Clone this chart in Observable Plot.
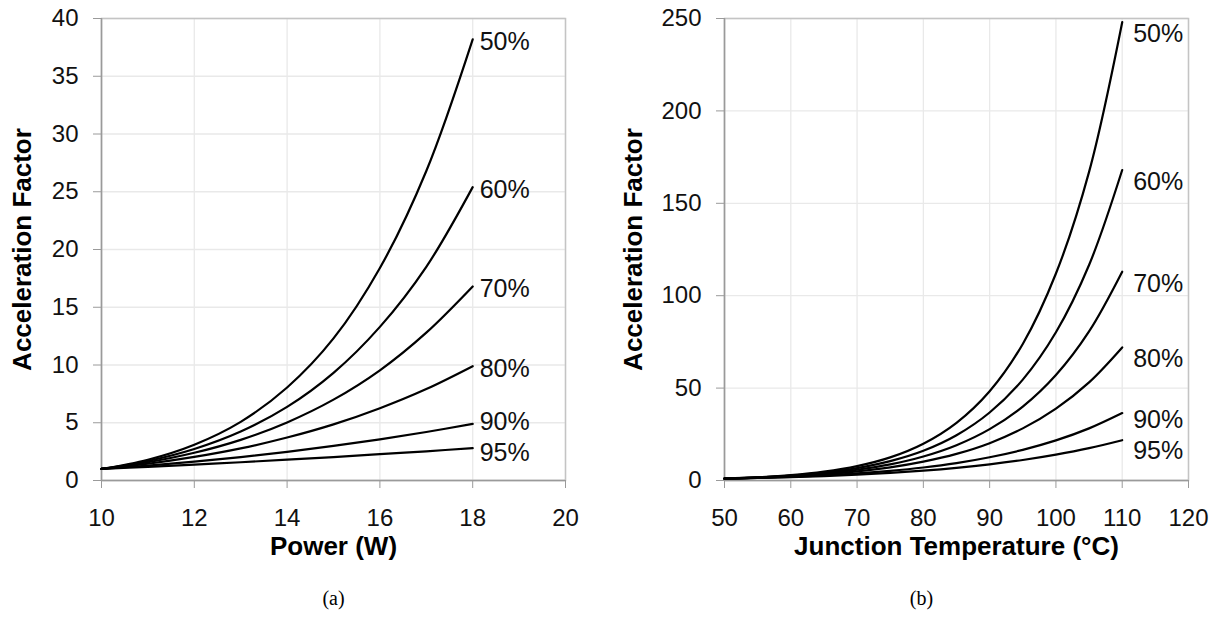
<!DOCTYPE html>
<html>
<head>
<meta charset="utf-8">
<script src="https://cdn.jsdelivr.net/npm/d3@7"></script>
<script src="https://cdn.jsdelivr.net/npm/@observablehq/plot@0.6"></script>
<style>
  html, body { margin: 0; padding: 0; background: #fff; }
  #wrap { position: relative; width: 1221px; height: 630px; overflow: hidden; }
  #left { position: absolute; left: 0; top: 0; }
  #right { position: absolute; left: 610px; top: 0; }
</style>
</head>
<body>
<div id="wrap"><div id="left"></div><div id="right"></div></div>
<script>
// ---- data ----
const levels = ["50%", "60%", "70%", "80%", "90%", "95%"];

// (a) Acceleration factor vs power (W)
const power = [10, 11, 12, 13, 14, 15, 16, 17, 18];
const pw50 = [1, 1.80, 3.10, 5.08, 8.05, 12.3, 18.4, 26.8, 38.2];
const pw60 = [1, 1.69, 2.73, 4.24, 6.37, 9.32, 13.3, 18.5, 25.4];
const pw70 = [1, 1.58, 2.40, 3.52, 5.03, 7.00, 9.54, 12.8, 16.8];
const pw80 = [1, 1.45, 2.04, 2.78, 3.72, 4.86, 6.26, 7.92, 9.9];
const pw90 = [1, 1.29, 1.64, 2.03, 2.48, 2.99, 3.56, 4.20, 4.9];
const pw95 = [1, 1.18, 1.38, 1.58, 1.80, 2.03, 2.28, 2.53, 2.8];

// (b) Acceleration factor vs junction temperature (°C)
const temp = [50, 55, 60, 65, 70, 75, 80, 85, 90, 95, 100, 105, 110];
const tj50 = [1, 1.71, 2.87, 4.77, 7.78, 12.5, 19.9, 31.2, 48.3, 73.9, 112, 167, 248];
const tj60 = [1, 1.65, 2.67, 4.27, 6.73, 10.5, 16.1, 24.5, 36.8, 54.6, 80.2, 116.6, 168];
const tj70 = [1, 1.58, 2.47, 3.81, 5.81, 8.74, 13.0, 19.1, 27.8, 40.0, 57.1, 80.7, 113];
const tj80 = [1, 1.52, 2.27, 3.36, 4.91, 7.11, 10.2, 14.4, 20.2, 28.2, 38.9, 53.1, 72];
const tj90 = [1, 1.42, 1.99, 2.77, 3.81, 5.21, 7.04, 9.44, 12.6, 16.6, 21.7, 28.2, 36.5];
const tj95 = [1, 1.35, 1.80, 2.39, 3.15, 4.11, 5.32, 6.84, 8.74, 11.1, 14.0, 17.5, 21.8];

// axis ticks
const powerTicks = [10, 12, 14, 16, 18, 20];
const afTicksA = [0, 5, 10, 15, 20, 25, 30, 35, 40];
const tempTicks = [50, 60, 70, 80, 90, 100, 110, 120];
const afTicksB = [0, 50, 100, 150, 200, 250];

// ---- build tables ----
function toRows(xs, seriesList) {
  const rows = [];
  seriesList.forEach((vals, i) => {
    vals.forEach((v, j) => rows.push({x: xs[j], y: v, level: levels[i]}));
  });
  return rows;
}
const rowsA = toRows(power, [pw50, pw60, pw70, pw80, pw90, pw95]);
const rowsB = toRows(temp, [tj50, tj60, tj70, tj80, tj90, tj95]);
const endsA = levels.map(l => rowsA.filter(r => r.level === l).slice(-1)[0]);
const endsB = levels.map(l => rowsB.filter(r => r.level === l).slice(-1)[0]);

const SANS = "'Liberation Sans', Arial, Helvetica, sans-serif";
const SERIF = "'Liberation Serif', 'Times New Roman', serif";
const yTitle = "Acceleration Factor";

function endLabels(ends, dx, dyMain, dy90, dy95) {
  const common = {x: "x", y: "y", text: "level", textAnchor: "start", dx, fontSize: 25, fill: "#111"};
  return [
    Plot.text(ends.filter(d => d.level !== "90%" && d.level !== "95%"), {...common, dy: dyMain}),
    Plot.text(ends.filter(d => d.level === "90%"), {...common, dy: dy90}),
    Plot.text(ends.filter(d => d.level === "95%"), {...common, dy: dy95})
  ];
}

function panel({width, marginLeft, marginRight, xDomain, xTicks, yDomain, yTicks,
                rows, ends, xTitle, yTitleDx, caption, captionDx, labels}) {
  return Plot.plot({
    width, height: 630,
    marginLeft, marginRight, marginTop: 18, marginBottom: 150,
    style: {fontFamily: SANS, fontSize: "24px", color: "#000", background: "#fff", overflow: "visible"},
    x: {domain: xDomain, ticks: xTicks},
    y: {domain: yDomain, ticks: yTicks},
    marks: [
      Plot.gridX(xTicks, {stroke: "#e9e9e9", strokeOpacity: 1, strokeWidth: 1.3}),
      Plot.gridY(yTicks, {stroke: "#e9e9e9", strokeOpacity: 1, strokeWidth: 1.3}),
      Plot.frame({stroke: "#c4c4c4", strokeWidth: 1.5}),
      Plot.ruleX([xDomain[0]], {stroke: "#9a9a9a", strokeWidth: 1.5}),
      Plot.ruleY([yDomain[0]], {stroke: "#9a9a9a", strokeWidth: 1.5}),
      Plot.axisX(xTicks, {tickSize: 8, tickPadding: 20, stroke: "#9a9a9a", fill: "#111", fontSize: 24, label: null}),
      Plot.axisY(yTicks, {tickSize: 8, tickPadding: 15, stroke: "#9a9a9a", fill: "#111", fontSize: 24, label: null}),
      Plot.line(rows, {x: "x", y: "y", z: "level", stroke: "#000", strokeWidth: 2.2, curve: "catmull-rom"}),
      ...labels,
      Plot.text([yTitle], {frameAnchor: "left", rotate: -90, dx: yTitleDx, textAnchor: "middle", lineAnchor: "middle",
                           fontSize: 26, fontWeight: "bold", fill: "#000"}),
      Plot.text([xTitle], {frameAnchor: "bottom", dy: 66, textAnchor: "middle", lineAnchor: "middle",
                           fontSize: 26, fontWeight: "bold", fill: "#000"}),
      Plot.text([caption], {frameAnchor: "bottom", dy: 118, dx: captionDx, textAnchor: "middle", lineAnchor: "middle",
                            fontSize: 20, fontFamily: SERIF, fill: "#000"})
    ]
  });
}

document.getElementById("left").appendChild(panel({
  width: 610, marginLeft: 101, marginRight: 45,
  xDomain: [10, 20], xTicks: powerTicks, yDomain: [0, 40], yTicks: afTicksA,
  rows: rowsA, ends: endsA, xTitle: "Power (W)", yTitleDx: -79,
  caption: "(a)", captionDx: 0, labels: endLabels(endsA, 7, 3, -2, 5)
}));
document.getElementById("right").appendChild(panel({
  width: 611, marginLeft: 114, marginRight: 33,
  xDomain: [50, 120], xTicks: tempTicks, yDomain: [0, 250], yTicks: afTicksB,
  rows: rowsB, ends: endsB, xTitle: "Junction Temperature (°C)", yTitleDx: -91,
  caption: "(b)", captionDx: -35, labels: endLabels(endsB, 11, 12, 7, 11)
}));
</script>
</body>
</html>
